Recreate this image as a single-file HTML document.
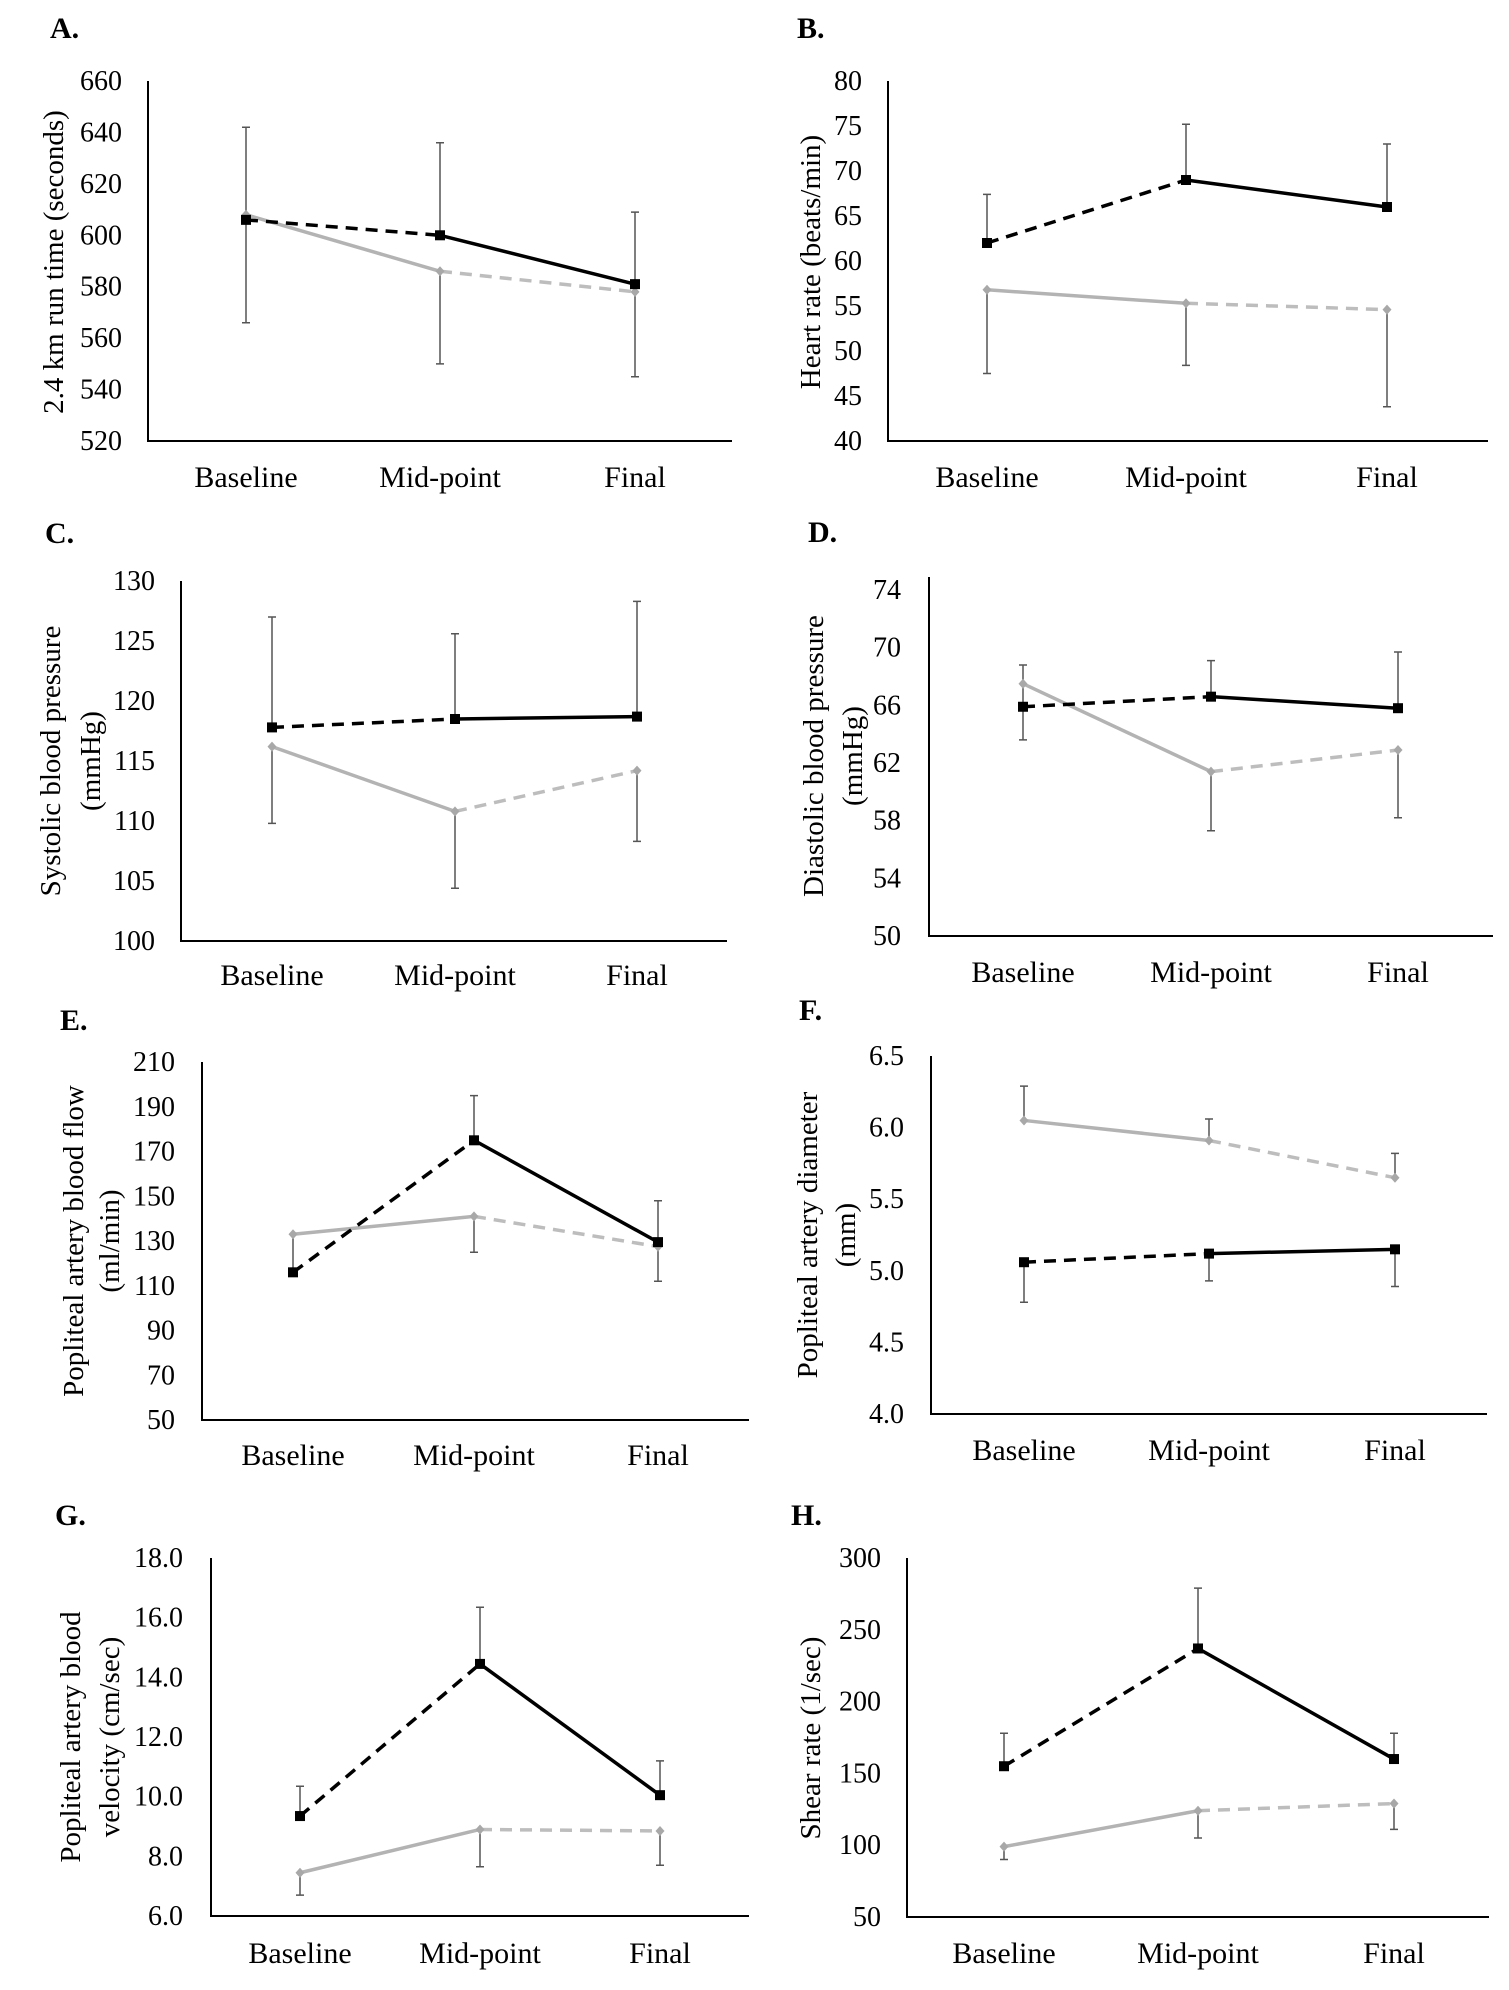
<!DOCTYPE html>
<html><head><meta charset="utf-8"><title>Training outcomes</title>
<style>
html,body{margin:0;padding:0;background:#fff;}
svg{display:block;font-family:"Liberation Serif",serif;}
</style></head>
<body>
<svg id="fig" width="1509" height="1990" viewBox="0 0 1509 1990" xmlns="http://www.w3.org/2000/svg"></svg>
<script>
const categories = ["Baseline", "Mid-point", "Final"];

const aBlack = [606, 600, 581];
const aGray = [608, 586, 578];
const aBlackErr = [642, 636, 609];
const aGrayErr = [566, 550, 545];
const aTicks = [520, 540, 560, 580, 600, 620, 640, 660];

const bBlack = [62, 69, 66];
const bGray = [56.8, 55.3, 54.6];
const bBlackErr = [67.4, 75.2, 73];
const bGrayErr = [47.5, 48.4, 43.8];
const bTicks = [40, 45, 50, 55, 60, 65, 70, 75, 80];

const cBlack = [117.8, 118.5, 118.7];
const cGray = [116.2, 110.8, 114.2];
const cBlackErr = [127, 125.6, 128.3];
const cGrayErr = [109.8, 104.4, 108.3];
const cTicks = [100, 105, 110, 115, 120, 125, 130];

const dBlack = [65.9, 66.6, 65.8];
const dGray = [67.5, 61.4, 62.9];
const dBlackErr = [68.8, 69.1, 69.7];
const dBlackErrLow = [63.6, 66.6, 65.8];
const dGrayErr = [67.5, 57.3, 58.2];
const dTicks = [50, 54, 58, 62, 66, 70, 74];

const eBlack = [116, 175, 129.5];
const eGray = [133, 141, 127.5];
const eBlackErr = [133, 195, 148];
const eGrayErr = [133, 125, 112];
const eTicks = [50, 70, 90, 110, 130, 150, 170, 190, 210];

const fBlack = [5.06, 5.12, 5.15];
const fGray = [6.05, 5.91, 5.65];
const fBlackErr = [4.78, 4.93, 4.89];
const fGrayErr = [6.29, 6.06, 5.82];
const fTicks = ["4.0", "4.5", "5.0", "5.5", "6.0", "6.5"];

const gBlack = [9.35, 14.45, 10.05];
const gGray = [7.45, 8.9, 8.85];
const gBlackErr = [10.35, 16.35, 11.2];
const gGrayErr = [6.7, 7.65, 7.7];
const gTicks = ["6.0", "8.0", "10.0", "12.0", "14.0", "16.0", "18.0"];

const hBlack = [155, 237, 160];
const hGray = [99, 124, 129];
const hBlackErr = [178, 279, 178];
const hGrayErr = [90, 105, 111];
const hTicks = [50, 100, 150, 200, 250, 300];

const NS = "http://www.w3.org/2000/svg";
const svg = document.getElementById("fig");
function mk(tag, attrs, parent) {
  const e = document.createElementNS(NS, tag);
  for (const k in attrs) e.setAttribute(k, attrs[k]);
  (parent || svg).appendChild(e);
  return e;
}

function panel(id, letter, labelLines, black, gray, errSets, ticks, g) {
  const grp = mk("g", {});
  
  
  const tv = ticks.map(Number);
  const yMin = tv[0], yMax = g.yMax !== undefined ? g.yMax : tv[tv.length - 1];
  const y = v => g.bottom - (v - yMin) / (yMax - yMin) * (g.bottom - g.top);
  const x = i => g.cats[i];

  const lt = mk("text", {x: g.lx, y: g.ly, "font-size": 30, "font-weight": "bold"}, grp);
  lt.textContent = letter + ".";
  
  

  const ax = mk("path", {d: `M${g.ax} ${g.top}V${g.bottom}H${g.right}`, fill: "none", stroke: "#000", "stroke-width": 2}, grp);
  
  

  ticks.forEach(t => {
    const tt = mk("text", {x: g.tr, y: y(Number(t)) + 9, "font-size": 28, "text-anchor": "end"}, grp);
    tt.textContent = String(t);
    
    
  });

  categories.forEach((c, i) => {
    const ct = mk("text", {x: x(i), y: g.cb, "font-size": 30, "text-anchor": "middle"}, grp);
    ct.textContent = c;
    
    
  });

  labelLines.forEach((L, k) => {
    const lx = g.tx[k];
    const yt = mk("text", {x: lx, y: g.ty, "font-size": 29, "text-anchor": "middle", "dominant-baseline": "central", transform: `rotate(-90 ${lx} ${g.ty})`}, grp);
    yt.textContent = L;
    
    
  });

  errSets.forEach(([means, ends]) => {
    for (let i = 0; i < 3; i++) {
      if (Math.abs(ends[i] - means[i]) < 1e-9) continue;
      const y0 = y(means[i]), y1 = y(ends[i]);
      const e = mk("path", {d: `M${x(i)} ${y0}V${y1}M${x(i)-4} ${y1}h8`, stroke: "#555", "stroke-width": 1.5, fill: "none"}, grp);
      
      
    }
  });

  function series(vals, color, color2, name) {
    const l1 = mk("line", {x1: x(0), y1: y(vals[0]), x2: x(1), y2: y(vals[1]), stroke: color, "stroke-width": 3.5}, grp);
    const l2 = mk("line", {x1: x(1), y1: y(vals[1]), x2: x(2), y2: y(vals[2]), stroke: color2, "stroke-width": 3.5}, grp);
    if (name === "black") { l1.setAttribute("stroke-dasharray", "12 8"); }
    else { l2.setAttribute("stroke-dasharray", "12 8"); }
    
    
    
    
    vals.forEach((v, i) => {
      let m;
      if (name === "black") m = mk("rect", {x: x(i) - 5, y: y(v) - 5, width: 10, height: 10, fill: "#000"}, grp);
      else m = mk("path", {d: `M${x(i)} ${y(v)-5}l4.5 5l-4.5 5l-4.5 -5z`, fill: "#a8a8a8"}, grp);
      
      
    });
  }
  series(gray, "#b3b3b3", "#bdbdbd", "gray");
  series(black, "#000", "#000", "black");
}

panel("a", "A", ["2.4 km run time (seconds)"], aBlack, aGray, [[aBlack, aBlackErr], [aGray, aGrayErr]], aTicks,
  {ax: 148, top: 81, bottom: 441, right: 732, cats: [246, 440, 635], tr: 122, cb: 487, lx: 50, ly: 38, tx: [54], ty: 262});
panel("b", "B", ["Heart rate (beats/min)"], bBlack, bGray, [[bBlack, bBlackErr], [bGray, bGrayErr]], bTicks,
  {ax: 888, top: 81, bottom: 441, right: 1488, cats: [987, 1186, 1387], tr: 862, cb: 487, lx: 797, ly: 38, tx: [811], ty: 262});
panel("c", "C", ["Systolic blood pressure", "(mmHg)"], cBlack, cGray, [[cBlack, cBlackErr], [cGray, cGrayErr]], cTicks,
  {ax: 181, top: 581, bottom: 941, right: 727, cats: [272, 455, 637], tr: 155, cb: 985, lx: 45, ly: 543, tx: [51, 91], ty: 761});
panel("d", "D", ["Diastolic blood pressure", "(mmHg)"], dBlack, dGray, [[dBlack, dBlackErr], [dBlack, dBlackErrLow], [dGray, dGrayErr]], dTicks,
  {ax: 929, top: 577, bottom: 936, right: 1493, yMax: 74.9, cats: [1023, 1211, 1398], tr: 901, cb: 982, lx: 808, ly: 542, tx: [814, 853], ty: 756});
panel("e", "E", ["Popliteal artery blood flow", "(ml/min)"], eBlack, eGray, [[eBlack, eBlackErr], [eGray, eGrayErr]], eTicks,
  {ax: 202, top: 1062, bottom: 1420, right: 749, cats: [293, 474, 658], tr: 175, cb: 1465, lx: 60, ly: 1030, tx: [74, 110], ty: 1241});
panel("f", "F", ["Popliteal artery diameter", "(mm)"], fBlack, fGray, [[fBlack, fBlackErr], [fGray, fGrayErr]], fTicks,
  {ax: 931, top: 1056, bottom: 1414, right: 1487, cats: [1024, 1209, 1395], tr: 904, cb: 1460, lx: 799, ly: 1020, tx: [808, 846], ty: 1235});
panel("g", "G", ["Popliteal artery blood", "velocity (cm/sec)"], gBlack, gGray, [[gBlack, gBlackErr], [gGray, gGrayErr]], gTicks,
  {ax: 211, top: 1558, bottom: 1916, right: 749, cats: [300, 480, 660], tr: 183, cb: 1963, lx: 55, ly: 1525, tx: [71, 110], ty: 1737});
panel("h", "H", ["Shear rate (1/sec)"], hBlack, hGray, [[hBlack, hBlackErr], [hGray, hGrayErr]], hTicks,
  {ax: 907, top: 1558, bottom: 1917, right: 1489, cats: [1004, 1198, 1394], tr: 881, cb: 1963, lx: 791, ly: 1525, tx: [811], ty: 1738});
</script>
</body></html>
